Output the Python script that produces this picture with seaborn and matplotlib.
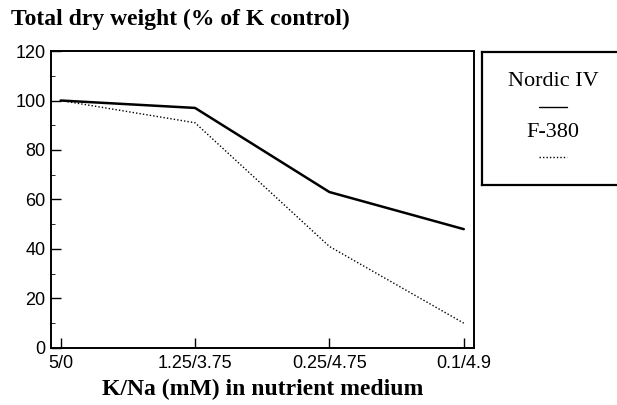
import matplotlib
matplotlib.use('Agg')
import matplotlib.pyplot as plt
import pandas as pd
import seaborn as sns
from matplotlib.ticker import MultipleLocator

categories = ['5/0', '1.25/3.75', '0.25/4.75', '0.1/4.9']
nordic_iv = [100, 97, 63, 48]
f_380 = [100, 91, 41, 10]
series_names = ['Nordic IV', 'F-380']

df = pd.DataFrame({
    'pos': list(range(len(categories))) * 2,
    'weight': nordic_iv + f_380,
    'cultivar': [series_names[0]] * len(categories) + [series_names[1]] * len(categories),
})

sns.set_style('ticks')
plt.rcParams['font.family'] = ['Liberation Sans', 'DejaVu Sans']
plt.rcParams['text.color'] = 'black'
plt.rcParams['xtick.color'] = 'black'
plt.rcParams['ytick.color'] = 'black'
plt.rcParams['axes.labelcolor'] = 'black'

fig = plt.figure(figsize=(6.17, 4.05), dpi=100)
ax = fig.add_axes([0.082, 0.141, 0.686, 0.733])

sns.lineplot(data=df, x='pos', y='weight', hue='cultivar', style='cultivar',
             palette={series_names[0]: 'black', series_names[1]: 'black'},
             dashes={series_names[0]: '', series_names[1]: (1, 1.5)},
             size='cultivar', sizes={series_names[0]: 1.8, series_names[1]: 1.0},
             legend=False, ax=ax)

ax.set_xlim(-0.075, 3.075)
ax.set_ylim(0, 120)
ax.set_xticks(range(len(categories)))
ax.set_xticklabels(categories)
ax.yaxis.set_major_locator(MultipleLocator(20))
ax.yaxis.set_minor_locator(MultipleLocator(10))
ax.tick_params(axis='both', direction='in', length=7, width=1, labelsize=13,
               colors='black')
ax.tick_params(axis='y', which='minor', direction='in', length=3)
ax.tick_params(axis='x', pad=5)
for s in ax.spines.values():
    s.set_linewidth(1.4)
    s.set_color('black')
ax.set_xlabel('K/Na (mM) in nutrient medium', fontsize=17, fontweight='bold',
              family='Liberation Serif', labelpad=5)
ax.set_ylabel('')

fig.text(0.018, 0.952, 'Total dry weight (% of K control)', fontsize=17,
         fontweight='bold', family='Liberation Serif', va='center', ha='left')

# legend box
lax = fig.add_axes([0.782, 0.543, 0.225, 0.329])
lax.set_xlim(0, 1)
lax.set_ylim(0, 1)
lax.set_xticks([])
lax.set_yticks([])
for s in lax.spines.values():
    s.set_linewidth(1.6)
    s.set_color('black')
lax.text(0.51, 0.774, series_names[0], ha='center', va='center', fontsize=16,
         family='Liberation Serif')
lax.plot([0.41, 0.61], [0.586, 0.586], color='black', lw=1.0)
lax.text(0.51, 0.398, series_names[1], ha='center', va='center', fontsize=16,
         family='Liberation Serif')
lax.plot([0.41, 0.61], [0.21, 0.21], color='black', lw=1.0, dashes=(1, 1.5))

fig.savefig('out.png', dpi=100)
